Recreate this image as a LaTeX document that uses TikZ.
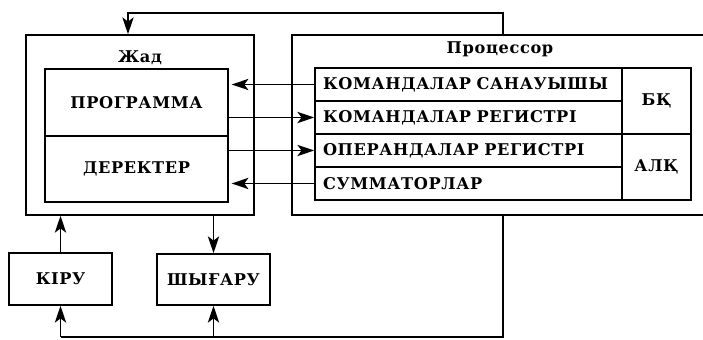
\documentclass[tikz,border=0pt]{standalone}
\usepackage{fontspec}
\setmainfont{DejaVu Serif}[LetterSpace=4]
\usetikzlibrary{positioning,arrows.meta}
\tikzset{
  blk/.style={draw,minimum width=#1,inner sep=0pt},
  rowbox/.style={draw,minimum height=33*0.025cm,text width=291*0.025cm,
    inner xsep=8*0.025cm,inner ysep=0pt,align=left},
  arr/.style={-{Stealth[length=12pt,width=8pt,inset=3pt]}}
}
\begin{document}
\begin{tikzpicture}[x=0.025cm,y=0.025cm,line width=1.1pt,
  font=\bfseries\fontsize{11.5}{13}\selectfont]
\useasboundingbox (0,0) rectangle (703,340);
% memory
\node[blk=228*0.025cm,minimum height=180*0.025cm] (zhad) at (140,215) {};
\node[below=0.28cm of zhad.north] (zhadlbl) {Жад};
\node[blk=183*0.025cm,minimum height=67*0.025cm] (prog) at (136.5,237.5) {ПРОГРАММА};
\node[blk=183*0.025cm,minimum height=66*0.025cm] (data) at (136.5,171) {ДЕРЕКТЕР};
% processor
\node[blk=428*0.025cm,minimum height=180*0.025cm] (proc) at (506,215) {};
\node (proclbl) at (500,291) {Процессор};
\node[rowbox] (row1) at (468.5,255.5) {КОМАНДАЛАР САНАУЫШЫ};
\node[rowbox] (row2) at (468.5,222.5) {КОМАНДАЛАР РЕГИСТРІ};
\node[rowbox] (row3) at (468.5,189.5) {ОПЕРАНДАЛАР РЕГИСТРІ};
\node[rowbox] (row4) at (468.5,156.5) {СУММАТОРЛАР};
\node[blk=69*0.025cm,minimum height=66*0.025cm] (bk) at (656.5,239) {БҚ};
\node[blk=69*0.025cm,minimum height=66*0.025cm] (alk) at (656.5,173) {АЛҚ};
% input, output
\node[blk=103*0.025cm,minimum height=52*0.025cm] (kiru) at (60.5,61) {КІРУ};
\node[blk=113*0.025cm,minimum height=51*0.025cm] (shyg) at (213.5,60.5) {ШЫҒАРУ};
% links
\draw[arr,shorten >=2pt](row1.west)--(row1.west-|prog.east);
\draw[arr](row2.west-|prog.east)--(row2.west);
\draw[arr](row3.west-|data.east)--(row3.west);
\draw[arr,shorten >=2pt](row4.west)--(row4.west-|data.east);
\coordinate (top) at (503,327);
\coordinate (bot) at (503,3);
\draw[arr](proc.north-|top)--(top)-|([xshift=-0.3cm]zhad.north);
\draw(proc.south-|bot)--(bot)--(bot-|kiru);
\draw[arr](bot-|kiru)--(kiru.south);
\draw[arr](bot-|shyg)--(shyg.south);
\draw[arr](kiru.north)--(kiru.north|-zhad.south);
\draw[arr](zhad.south-|shyg)--(shyg.north);
\end{tikzpicture}
\end{document}
